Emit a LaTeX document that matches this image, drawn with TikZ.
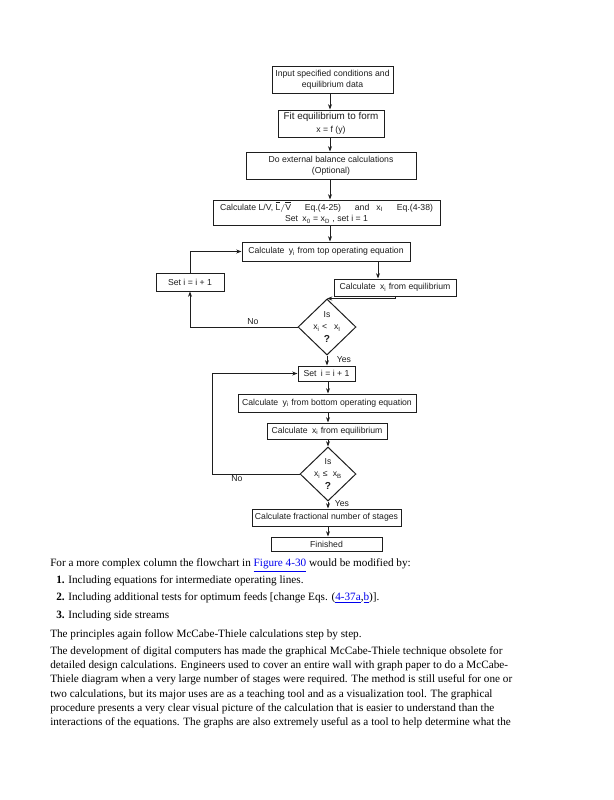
\documentclass[tikz,border=0pt]{standalone}
\usepackage{fontspec}
\setmainfont{Liberation Serif}
\newfontfamily\chartfont{Liberation Sans}
\usetikzlibrary{shapes.geometric,arrows.meta}
\definecolor{ink}{HTML}{1E1E1E}
\definecolor{linkblue}{HTML}{0000EE}
\newcommand{\lnk}[1]{\textcolor{linkblue}{\underline{#1}}}
\newcommand{\sbs}[1]{\textsubscript{#1}}
\newcommand{\qmark}{{\fontsize{7.6}{8}\selectfont\bfseries ?}}
\tikzset{
  box/.style={draw=ink, line width=0.75pt, inner sep=0pt, text=ink,
    font=\chartfont\fontsize{6.5}{8.4}\selectfont, align=center},
  dia/.style={draw=ink, line width=0.75pt, shape=diamond, inner sep=0pt},
  dtext/.style={text=ink, inner sep=0pt, align=center, font=\chartfont\fontsize{6.5}{9.3}\selectfont},
  lbl/.style={text=ink, inner sep=0pt, font=\chartfont\fontsize{6.5}{8}\selectfont},
  arr/.style={draw=ink, line width=0.75pt, -{Stealth[length=4pt,width=3pt]}},
  para/.style={anchor=base west, inner sep=0pt, font=\fontsize{8.4}{10}\selectfont}
}
\begin{document}
\begin{tikzpicture}[x=0.75pt,y=-0.75pt]
\useasboundingbox (0,0) rectangle (614,800);
\fill[white] (0,0) rectangle (614,800);

% boxes
\node[box, minimum width=90.75pt, minimum height=20.25pt] (b1) at (332.5,79.5) {Input specified conditions and\\equilibrium data};
\node[box, minimum width=79.5pt, minimum height=20.25pt] (b2) at (331,123.5) {{\fontsize{7.4}{8.4}\selectfont Fit equilibrium to form}\\[1.5pt]x = f (y)};
\node[box, minimum width=127.5pt, minimum height=20.25pt] (b3) at (331,165.5) {Do external balance calculations\\(Optional)};
\node[box, minimum width=170.25pt, minimum height=18.75pt] (b4) at (326.5,212.5) {Calculate L/V, $\overline{\mbox{L}}/\overline{\mbox{V}}$\hspace{1.6em}Eq.(4-25)\hspace{1.6em}and\hspace{0.8em}x\sbs{I}\hspace{1.6em}Eq.(4-38)\\Set\enspace x\sbs{0} = x\sbs{D} , set i = 1};
\node[box, minimum width=126pt, minimum height=14.25pt] (b5) at (326,251.5) {Calculate\enspace y\sbs{i} from top operating equation};
\node[box, minimum width=51pt, minimum height=13.5pt] (b6) at (190,282) {Set i = i + 1};
\node[box, minimum width=91.5pt, minimum height=12.75pt] (b7) at (395,287.5) {Calculate\enspace x\sbs{i} from equilibrium};
\node[dia, minimum width=43.5pt, minimum height=42pt] (d1) at (327,327) {};
\node[dtext] (d1t) at (d1) {Is\\x\sbs{i} <\hspace{0.8em}x\sbs{I}\\\qmark};
\node[box, minimum width=42.75pt, minimum height=11.25pt] (b8) at (326.5,373.5) {Set\enspace i = i + 1};
\node[box, minimum width=133.5pt, minimum height=13.5pt] (b9) at (327,403) {Calculate\enspace y\sbs{i} from bottom operating equation};
\node[box, minimum width=90pt, minimum height=12pt] (b10) at (327,431) {Calculate\enspace x\sbs{i} from equilibrium};
\node[dia, minimum width=42pt, minimum height=40.5pt] (d2) at (328,474) {};
\node[dtext] (d2t) at (d2) {Is\\x\sbs{i} ≤\hspace{0.6em}x\sbs{B}\\\qmark};
\node[box, minimum width=111.75pt, minimum height=12.75pt] (b11) at (326.5,517.5) {Calculate fractional number of stages};
\node[box, minimum width=83.25pt, minimum height=10.5pt] (b12) at (326.5,544) {Finished};

% helper coordinates
\coordinate (sp) at (330,0);
\coordinate (sq) at (328,0);
\coordinate (ax) at (378,0);
\coordinate (cx) at (212,0);

% connectors
\draw[arr] (b1.south -| sp) -- (b2.north -| sp);
\draw[arr] (b2.south -| sp) -- (b3.north -| sp);
\draw[arr] (b3.south -| sp) -- (b4.north -| sp);
\draw[arr] (b4.south -| sp) -- (b5.north -| sp);
\draw[arr] (b5.south -| ax) -- (b7.north -| ax);
\draw[arr] (b7.south) |- (d1.north);
\draw[arr] (d1.west) -| (b6.south);
\draw[arr] (b6.north) |- (b5.west);
\draw[arr] (d1.south) -- (b8.north -| d1.south);
\draw[arr] (b8.south -| sq) -- (b9.north -| sq);
\draw[arr] (b9.south -| sq) -- (b10.north -| sq);
\draw[arr] (b10.south -| sq) -- (d2.north);
\draw[arr] (d2.west) -- (d2.west -| cx) |- (b8.west);
\draw[arr] (d2.south) -- (b11.north -| d2.south);
\draw[arr] (b11.south -| sq) -- (b12.north -| sq);

% labels
\node[lbl] (no1) at (253,322) {No};
\node[lbl] (yes1) at (344,360) {Yes};
\node[lbl] (no2) at (237,479) {No};
\node[lbl] (yes2) at (342,504) {Yes};

% text below
\node[para] (t1) at (50,566.5) {For a more complex column the flowchart in \lnk{Figure 4-30} would be modified by:};
\node[para] (t2) at (56,583.5) {\textbf{1.} Including equations for intermediate operating lines.};
\node[para] (t3) at (56,600.5) {\textbf{2.} Including additional tests for optimum feeds [change Eqs. (\lnk{4-37a},\lnk{b})].};
\node[para] (t4) at (56,618.5) {\textbf{3.} Including side streams};
\node[para] (t5) at (50,637.5) {The principles again follow McCabe-Thiele calculations step by step.};
\node[para] (t6) at (50,654.5) {The development of digital computers has made the graphical McCabe-Thiele technique obsolete for};
\node[para] (t7) at (50,668.7) {detailed design calculations. Engineers used to cover an entire wall with graph paper to do a McCabe-};
\node[para] (t8) at (50,682.9) {Thiele diagram when a very large number of stages were required. The method is still useful for one or};
\node[para] (t9) at (50,697.1) {two calculations, but its major uses are as a teaching tool and as a visualization tool. The graphical};
\node[para] (t10) at (50,711.3) {procedure presents a very clear visual picture of the calculation that is easier to understand than the};
\node[para] (t11) at (50,725.5) {interactions of the equations. The graphs are also extremely useful as a tool to help determine what the};
\end{tikzpicture}
\end{document}
